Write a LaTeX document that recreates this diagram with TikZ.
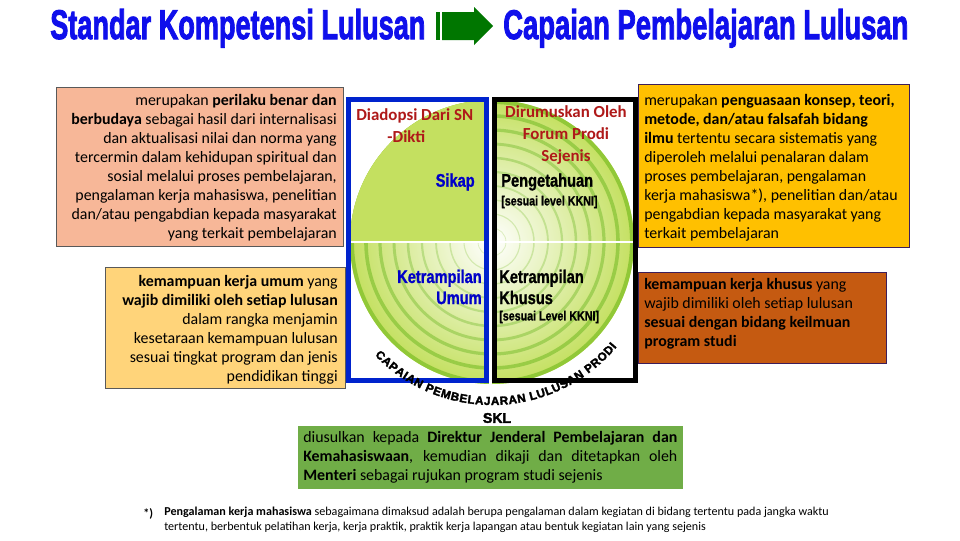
\documentclass[tikz,border=0pt]{standalone}
\usepackage{fontspec}
\usepackage{graphicx}
\setmainfont{Carlito}
\newfontfamily\condfont{Liberation Sans Bold}[FakeStretch=0.8, FakeBold=1]
\newfontfamily\heavyfont{Liberation Sans Bold}[FakeBold=2.5]
\usepackage{tikz}
\usetikzlibrary{decorations.text}
\usepackage{xcolor}
\definecolor{titleblue}{RGB}{15,15,235}
\definecolor{arrowgreen}{RGB}{0,118,0}
\definecolor{peachfill}{RGB}{247,183,152}
\definecolor{softyellow}{RGB}{255,212,122}
\definecolor{goldfill}{RGB}{255,192,0}
\definecolor{rustfill}{RGB}{197,90,17}
\definecolor{grassfill}{RGB}{112,173,71}
\definecolor{discgreen}{RGB}{196,224,96}
\definecolor{ringgreen}{RGB}{145,200,55}
\definecolor{frameblue}{RGB}{0,35,205}
\definecolor{sourcered}{RGB}{175,25,25}
\definecolor{labelblue}{RGB}{0,0,200}
\definecolor{edgepurple}{RGB}{60,30,90}

\begin{document}
\begin{tikzpicture}[x=0.025cm,y=0.025cm,
    bodytext/.style={font=\fontsize{11.3}{13.5}\selectfont, inner sep=0pt},
    notetext/.style={font=\fontsize{8.6}{10.7}\selectfont, inner sep=0pt},
    capslabel/.style={font=\condfont\fontsize{13}{15}\selectfont, inner sep=0pt},
    kknilabel/.style={font=\condfont\fontsize{9.5}{11}\selectfont, inner sep=0pt},
    sourcelabel/.style={font=\bfseries\fontsize{12}{15.5}\selectfont, text=sourcered, inner sep=0pt},
    infobox/.style={draw=edgepurple, line width=0.7pt}]
    \useasboundingbox (0,0) rectangle (960,-540);
    \fill[white] (0,0) rectangle (960,-540);

    % Titles
    \node[anchor=base west, inner sep=0pt, text=titleblue] (sklTitle) at (50,-39)
      {\resizebox{9.375cm}{0.75cm}{\heavyfont Standar Kompetensi Lulusan}};
    \node[anchor=base west, inner sep=0pt, text=titleblue] (cplTitle) at (503,-39)
      {\resizebox{10.125cm}{0.75cm}{\heavyfont Capaian Pembelajaran Lulusan}};

    % Arrow between titles
    \fill[arrowgreen] (436,-12) rectangle (440,-40);
    \fill[arrowgreen] (442,-12) -- (474,-12) -- (474,-7) -- (493,-26)
      -- (474,-45) -- (474,-40) -- (442,-40) -- cycle;

    % Disc
    \coordinate (C) at (492,-242);
    \shade[inner color=white, outer color=discgreen] (C) circle (142);
    \foreach \k [evaluate=\k as \w using 0.3+0.25*\k,
                 evaluate=\k as \o using 25+7.5*\k] in {1,...,10}
      \draw[ringgreen!\o, line width=\w pt] (C) circle ({14*\k});
    \fill[discgreen] (C) -- ([shift={(C)}]180:142) arc (180:90:142) -- cycle;
    \draw[white, line width=0.8pt] ([shift={(C)}]180:143) -- ([shift={(C)}]0:143);
    \fill[white] (489,-97) rectangle (492,-384);

    % Frames
    \draw[frameblue, line width=3.5pt] (348.5,-99.5) rectangle (486.5,-380.5);
    \draw[black, line width=3.5pt] (494.5,-99.5) rectangle (635.5,-380.5);

    % Labels in the disc
    \node[sourcelabel, anchor=west, align=left] (adopted) at (356,-126)
      {Diadopsi Dari SN\\\hspace*{0.78cm}-Dikti};
    \node[sourcelabel, align=center] (formulated) at (566,-135)
      {Dirumuskan Oleh\\Forum Prodi\\Sejenis};
    \node[capslabel, text=labelblue, anchor=east] (sikap) at (475,-182) {Sikap};
    \node[capslabel, anchor=west] (pengetahuan) at (501,-182) {Pengetahuan};
    \node[kknilabel, anchor=west] (kkniA) at (501,-202) {[sesuai level KKNI]};
    \node[capslabel, text=labelblue, anchor=east, align=right] (kUmum) at (482,-287)
      {Ketrampilan\\Umum};
    \node[capslabel, anchor=west, align=left] (kKhusus) at (499,-287)
      {Ketrampilan\\Khusus};
    \node[kknilabel, anchor=west] (kkniB) at (499,-317) {[sesuai Level KKNI]};

    % Curved caption
    \path[decorate, decoration={text along path, text align=fit to path,
      text={|\heavyfont\fontsize{8.3}{10}\selectfont|CAPAIAN PEMBELAJARAN LULUSAN PRODI}}]
      ([shift={(C)}]224:163) arc (224:320:163);
    \node[font=\heavyfont\fontsize{10}{12}\selectfont, inner sep=0pt] (skl) at (497,-418) {SKL};

    % Left boxes
    \fill[peachfill] (56,-87) rectangle (343,-246);
    \draw[gray!70!black, line width=0.6pt] (56,-87) rectangle (343,-246);
    \node[bodytext, anchor=east, align=right] (sikapText) at (337,-168)
      {merupakan \textbf{perilaku benar dan}\\
       \textbf{berbudaya} sebagai hasil dari internalisasi\\
       dan aktualisasi nilai dan norma yang\\
       tercermin dalam kehidupan spiritual dan\\
       sosial melalui proses pembelajaran,\\
       pengalaman kerja mahasiswa, penelitian\\
       dan/atau pengabdian kepada masyarakat\\
       yang terkait pembelajaran};

    \fill[softyellow] (105,-267) rectangle (345,-388);
    \draw[gray!70!black, line width=0.6pt] (105,-267) rectangle (345,-388);
    \node[bodytext, anchor=east, align=right] (umumText) at (338,-330)
      {\textbf{kemampuan kerja umum} yang\\
       \textbf{wajib dimiliki oleh setiap lulusan}\\
       dalam rangka menjamin\\
       kesetaraan kemampuan lulusan\\
       sesuai tingkat program dan jenis\\
       pendidikan tinggi};

    % Right boxes
    \fill[goldfill] (638,-84) rectangle (909,-247);
    \draw[infobox] (638,-84) rectangle (909,-247);
    \node[bodytext, anchor=west, align=left] (tahuText) at (644,-168)
      {merupakan \textbf{penguasaan konsep, teori,}\\
       \textbf{metode, dan/atau falsafah bidang}\\
       \textbf{ilmu} tertentu secara sistematis yang\\
       diperoleh melalui penalaran dalam\\
       proses pembelajaran, pengalaman\\
       kerja mahasiswa*), penelitian dan/atau\\
       pengabdian kepada masyarakat yang\\
       terkait pembelajaran};

    \fill[rustfill] (638,-272) rectangle (886,-363);
    \draw[infobox] (638,-272) rectangle (886,-363);
    \node[bodytext, anchor=west, align=left] (khususText) at (644,-314)
      {\textbf{kemampuan kerja khusus} yang\\
       wajib dimiliki oleh setiap lulusan\\
       \textbf{sesuai dengan bidang keilmuan}\\
       \textbf{program studi}};

    % Bottom box
    \fill[grassfill] (298,-426) rectangle (683,-489);
    \node[bodytext, anchor=west, text width=9.35cm, align=justify] (usulText) at (303,-457)
      {diusulkan kepada \textbf{Direktur Jenderal Pembelajaran dan}\linebreak
       \textbf{Kemahasiswaan}, kemudian dikaji dan ditetapkan oleh\linebreak
       \textbf{Menteri} sebagai rujukan program studi sejenis};

    % Footnote
    \node[notetext, anchor=base west] (noteMark) at (143,-517) {\textbf{*)}};
    \node[notetext, anchor=north west, align=left] (noteText) at (164,-507)
      {\textbf{Pengalaman kerja mahasiswa} sebagaimana dimaksud adalah berupa pengalaman dalam kegiatan di bidang tertentu pada jangka waktu\\
       tertentu, berbentuk pelatihan kerja, kerja praktik, praktik kerja lapangan atau bentuk kegiatan lain yang sejenis};
\end{tikzpicture}
\end{document}
